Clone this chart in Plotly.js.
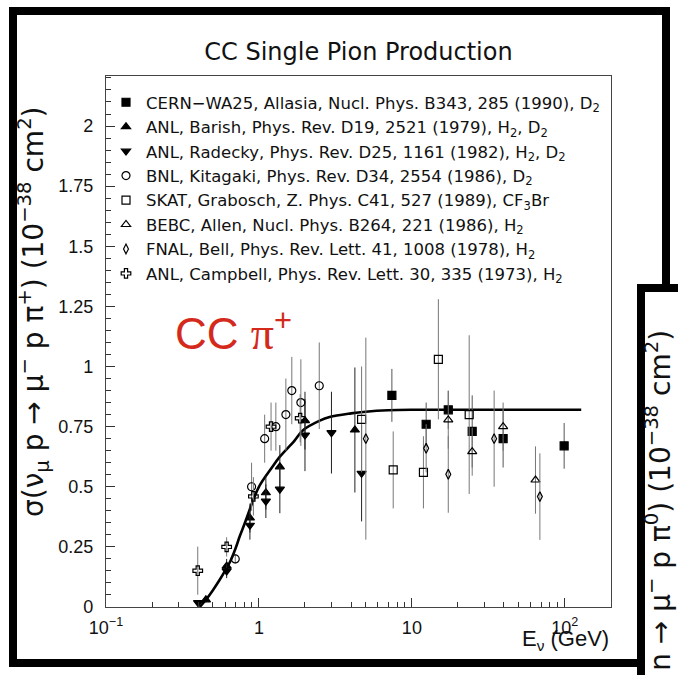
<!DOCTYPE html>
<html>
<head>
<meta charset="utf-8">
<script src="https://cdn.plot.ly/plotly-3.0.1.min.js"></script>
<style>html,body{margin:0;padding:0;background:#fff;}#chart{width:678px;height:675px;}</style>
</head>
<body>
<div id="chart"></div>
<script>
// ---- Fit curve ----
const curveE     = [0.41, 0.45, 0.5, 0.55, 0.6, 0.65, 0.7, 0.75, 0.81, 0.9, 1.0, 1.2, 1.37, 1.7, 1.95, 2.5, 2.9, 4.0, 5.0, 7.0, 10, 20, 50, 128];
const curveSigma = [0.0, 0.03, 0.07, 0.11, 0.15, 0.19, 0.24, 0.295, 0.35, 0.43, 0.50, 0.575, 0.625, 0.69, 0.736, 0.775, 0.79, 0.805, 0.812, 0.818, 0.82, 0.82, 0.82, 0.82];

// ---- Data sets ----
const cernE   = [7.4, 12.4, 17.3, 24.8, 39.5, 99];
const cernS   = [0.88, 0.76, 0.82, 0.73, 0.70, 0.67];
const cernErr = [0.11, 0.09, 0.08, 0.15, 0.12, 0.095];

const barishE   = [0.45, 0.615, 0.873, 1.11, 1.37, 2.0, 4.24];
const barishS   = [0.03, 0.17, 0.37, 0.475, 0.583, 0.775, 0.736];
const barishErr = [0.01, 0.03, 0.06, 0.07, 0.09, 0.12, 0.26];

const radeckyE   = [0.40, 0.615, 0.873, 1.11, 1.37, 2.0, 2.98, 4.69];
const radeckyS   = [0.018, 0.15, 0.34, 0.44, 0.49, 0.715, 0.725, 0.556];
const radeckyErr = [0.01, 0.03, 0.06, 0.07, 0.10, 0.15, 0.17, 0.2];

const kitagakiE   = [0.70, 0.895, 1.09, 1.29, 1.50, 1.64, 1.88, 2.48];
const kitagakiS   = [0.20, 0.50, 0.70, 0.75, 0.80, 0.90, 0.85, 0.92];
const kitagakiErr = [0.02, 0.10, 0.10, 0.10, 0.15, 0.14, 0.18, 0.18];

const skatE   = [4.69, 7.55, 11.9, 14.9, 23.7];
const skatS   = [0.78, 0.57, 0.56, 1.03, 0.80];
const skatErr = [0.22, 0.16, 0.15, 0.25, 0.33];

const bebcE   = [17.3, 24.8, 39.5, 64.3];
const bebcS   = [0.778, 0.646, 0.75, 0.528];
const bebcErr = [0.12, 0.10, 0.10, 0.14];

const fnalE   = [5.0, 12.4, 17.3, 34.5, 68.7];
const fnalS   = [0.70, 0.66, 0.552, 0.70, 0.459];
const fnalErr = [0.42, 0.10, 0.16, 0.20, 0.18];

const campbellE   = [0.398, 0.615, 0.92, 1.20, 1.86];
const campbellS   = [0.151, 0.25, 0.46, 0.75, 0.785];
const campbellErr = [0.10, 0.04, 0.08, 0.10, 0.10];

const legendNames = [
  "CERN\u2212WA25, Allasia, Nucl. Phys. B343, 285 (1990), D<sub>2</sub>",
  "ANL, Barish, Phys. Rev. D19, 2521 (1979), H<sub>2</sub>, D<sub>2</sub>",
  "ANL, Radecky, Phys. Rev. D25, 1161 (1982), H<sub>2</sub>, D<sub>2</sub>",
  "BNL, Kitagaki, Phys. Rev. D34, 2554 (1986), D<sub>2</sub>",
  "SKAT, Grabosch, Z. Phys. C41, 527 (1989), CF<sub>3</sub>Br",
  "BEBC, Allen, Nucl. Phys. B264, 221 (1986), H<sub>2</sub>",
  "FNAL, Bell, Phys. Rev. Lett. 41, 1008 (1978), H<sub>2</sub>",
  "ANL, Campbell, Phys. Rev. Lett. 30, 335 (1973), H<sub>2</sub>"
];

const xTickVals = [0.1, 1, 10, 100];
const xTickText = ["10<sup>\u22121</sup>", "1", "10", "10<sup>2</sup>"];
const xMinorVals = [0.2,0.3,0.4,0.5,0.6,0.7,0.8,0.9,2,3,4,5,6,7,8,9,20,30,40,50,60,70,80,90,200];

function dataTrace(xs, ys, errs, name, symbol, size, errColor, group) {
  return {
    x: xs, y: ys, type: 'scatter', mode: 'markers', name: name,
    legendgroup: group,
    marker: {symbol: symbol, size: size, color: '#000', line: {color: '#000', width: 1.2}},
    error_y: {type: 'data', array: errs, visible: true, color: errColor, thickness: 1, width: 0},
    cliponaxis: true
  };
}

const traces = [
  {x: curveE, y: curveSigma, type: 'scatter', mode: 'lines', line: {color: '#000', width: 2.6, shape: 'spline'}, showlegend: false, hoverinfo: 'skip'},
  dataTrace(cernE, cernS, cernErr, legendNames[0], 'square', 8, '#555', 'g1'),
  dataTrace(barishE, barishS, barishErr, legendNames[1], 'triangle-up', 8, '#222', 'g2'),
  dataTrace(radeckyE, radeckyS, radeckyErr, legendNames[2], 'triangle-down', 8, '#222', 'g3'),
  dataTrace(kitagakiE, kitagakiS, kitagakiErr, legendNames[3], 'circle-open', 8, '#777', 'g4'),
  dataTrace(skatE, skatS, skatErr, legendNames[4], 'square-open', 8, '#777', 'g5'),
  dataTrace(bebcE, bebcS, bebcErr, legendNames[5], 'triangle-up-open', 8, '#777', 'g6'),
  dataTrace(fnalE, fnalS, fnalErr, legendNames[6], 'diamond-tall-open', 7, '#777', 'g7'),
  dataTrace(campbellE, campbellS, campbellErr, legendNames[7], 'cross-open', 8, '#777', 'g8')
];

// pixel -> paper helpers for the decorative frame
const L = 106, R = 611, T = 76, B = 607;
const px = v => (v - L) / (R - L);
const py = v => (B - v) / (B - T);
function bar(x0, x1, y0, y1) {
  return {type: 'rect', xref: 'paper', yref: 'paper', x0: px(x0), x1: px(x1), y0: py(y1), y1: py(y0),
          fillcolor: '#000', line: {width: 0}, layer: 'above'};
}

const yTitle = '\u03c3(\u03bd<sub>\u03bc</sub> p \u2192 \u03bc<sup>\u2212</sup> p \u03c0<sup>+</sup>) (10<sup>\u221238</sup> cm<sup>2</sup>)';
const y2Title = '\u03c3(\u03bd<sub>\u03bc</sub> n \u2192 \u03bc<sup>\u2212</sup> p \u03c0<sup>0</sup>) (10<sup>\u221238</sup> cm<sup>2</sup>)';

const layout = {
  width: 678, height: 675,
  margin: {l: L, r: 678 - R, t: T, b: 675 - B},
  paper_bgcolor: '#fff', plot_bgcolor: '#fff',
  showlegend: true,
  title: {text: 'CC Single Pion Production', x: 0.5, xref: 'paper', y: 1 - 52/675, yref: 'container', yanchor: 'middle',
          font: {family: 'DejaVu Sans', size: 24, color: '#111'}},
  xaxis: {
    type: 'log', range: [-1, 2.302],
    tickmode: 'array', tickvals: xTickVals, ticktext: xTickText,
    ticks: 'inside', ticklen: 9, tickcolor: '#333', tickwidth: 1,
    minor: {tickmode: 'array', tickvals: xMinorVals, ticks: 'inside', ticklen: 5, tickcolor: '#333'},
    showgrid: false, zeroline: false,
    showline: true, mirror: true, linecolor: '#444', linewidth: 1.2,
    tickfont: {family: 'Liberation Sans', size: 18, color: '#111'},
    ticklabelstandoff: 4
  },
  yaxis: {
    range: [0, 2.208], dtick: 0.25, tick0: 0,
    ticks: 'inside', ticklen: 9, tickcolor: '#333', tickwidth: 1,
    minor: {dtick: 0.05, ticks: 'inside', ticklen: 5, tickcolor: '#333'},
    showgrid: false, zeroline: false,
    showline: true, mirror: true, linecolor: '#444', linewidth: 1.2,
    tickfont: {family: 'Liberation Sans', size: 18, color: '#111'},
    ticklabelstandoff: 8
  },
  legend: {x: 0.0, xanchor: 'left', y: py(85), yanchor: 'top', bgcolor: 'rgba(0,0,0,0)', borderwidth: 0,
           tracegroupgap: 0, font: {family: 'DejaVu Sans', size: 16.5, color: '#111'}},
  annotations: [
    {xref: 'paper', yref: 'paper', x: px(233), y: py(331), xanchor: 'center', yanchor: 'middle', showarrow: false,
     text: 'CC <span style="font-family:Liberation Serif;font-size:46px">\u03c0</span><sup>+</sup>',
     font: {family: 'Liberation Sans', size: 44, color: '#d42a1c'}},
    {xref: 'paper', yref: 'paper', x: px(611), y: py(640), xanchor: 'right', yanchor: 'middle', showarrow: false,
     text: 'E<sub>\u03bd</sub> (GeV)', font: {family: 'Liberation Sans', size: 22, color: '#111'}},
    {xref: 'paper', yref: 'paper', x: px(33), y: py(312), xanchor: 'center', yanchor: 'middle', showarrow: false, textangle: -90,
     text: yTitle, font: {family: 'DejaVu Sans', size: 28, color: '#111'}},
    {xref: 'paper', yref: 'paper', x: px(661), y: py(328), xanchor: 'center', yanchor: 'top', showarrow: false, textangle: -90,
     text: y2Title, font: {family: 'DejaVu Sans', size: 28, color: '#111'}}
  ],
  shapes: [
    bar(9, 17, 7, 667),
    bar(9, 670, 7, 15),
    bar(662, 670, 7, 290),
    bar(9, 640, 659, 667),
    bar(637, 678, 284, 292),
    bar(637, 645, 284, 675)
  ]
};

Plotly.newPlot('chart', traces, layout, {displayModeBar: false, staticPlot: true});
</script>
</body>
</html>
